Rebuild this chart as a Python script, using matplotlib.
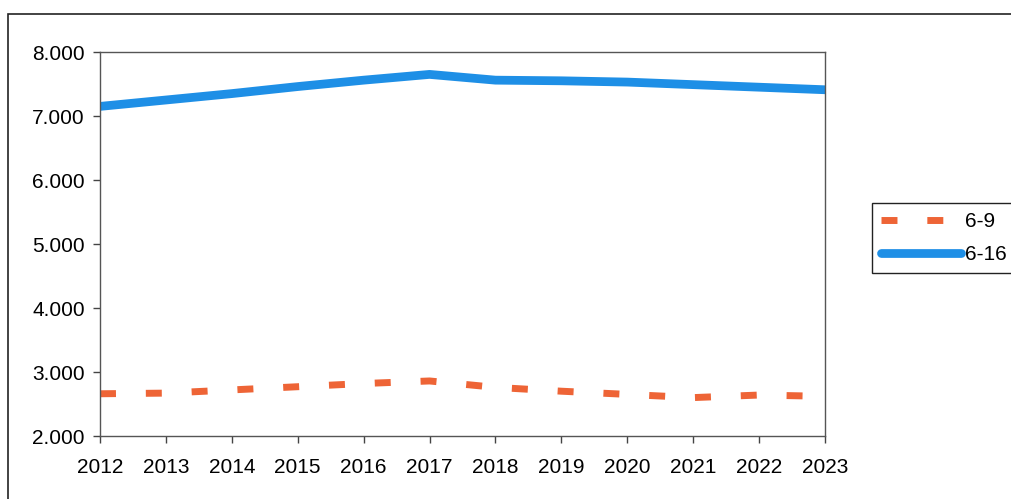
import matplotlib
matplotlib.use('Agg')
import matplotlib.pyplot as plt
from matplotlib.patches import Rectangle
from matplotlib.ticker import FuncFormatter

plt.rcParams['font.family'] = ['Liberation Sans', 'DejaVu Sans']

years = [2012, 2013, 2014, 2015, 2016, 2017, 2018, 2019, 2020, 2021, 2022, 2023]
ages_6_9 = [2.66, 2.67, 2.72, 2.77, 2.82, 2.86, 2.76, 2.70, 2.65, 2.60, 2.64, 2.62]
ages_6_16 = [7.15, 7.25, 7.35, 7.46, 7.56, 7.65, 7.56, 7.55, 7.53, 7.49, 7.45, 7.41]
labels = ['6-9', '6-16']

fig = plt.figure(figsize=(10.12, 4.99), dpi=100)
ax = fig.add_axes([100/1012, 1-436/499, 725/1012, 384/499])

# outer chart frame (runs off the right and bottom of the scan)
fig.add_artist(Rectangle((8/1012, -0.1), 1.2, 1 - 14/499 + 0.1,
                         transform=fig.transFigure, fill=False,
                         edgecolor='#222222', linewidth=1.2))

ax.plot(years, ages_6_9, color='#EE6436', linewidth=5, linestyle=(0, (2.3, 4.3)),
        dash_capstyle='butt', label=labels[0])
ax.plot(years, ages_6_16, color='#1E8FE6', linewidth=6.3, solid_capstyle='round',
        label=labels[1])

ax.set_xlim(2012, 2023)
ax.set_ylim(2.0, 8.0)
ax.set_xticks(years)
ax.set_yticks([2, 3, 4, 5, 6, 7, 8])
ax.yaxis.set_major_formatter(FuncFormatter(lambda v, p: '%.3f' % v))
ax.tick_params(direction='out', length=5, width=1, labelsize=15, color='#444444')
ax.tick_params(axis='y', pad=6)
ax.tick_params(axis='x', pad=11)
for s in ax.spines.values():
    s.set_color('#555555')
    s.set_linewidth(1)

leg = ax.legend(loc='upper left', bbox_to_anchor=(872/1012, 1-203/499),
                bbox_transform=fig.transFigure, borderaxespad=0, fontsize=15,
                handlelength=3.8, handletextpad=0.2, fancybox=False,
                edgecolor='#222222', framealpha=1, borderpad=0.45, labelspacing=0.65)
leg.get_frame().set_linewidth(1)

fig.savefig('out.png', dpi=100)
